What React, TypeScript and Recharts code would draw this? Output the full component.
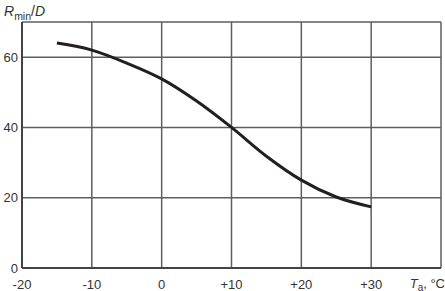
import { LineChart, Line, XAxis, YAxis, CartesianGrid } from "recharts";

const temps = [-15, -10, -5, 0, 5, 10, 15, 20, 25, 30];
const ratio = [64, 62, 58.3, 53.8, 47.5, 40, 31.8, 25, 20.2, 17.4];
const xTicks = [-20, -10, 0, 10, 20, 30, 40];
const yTicks = [0, 20, 40, 60, 70];

const data = temps.map((t, i) => ({ t, r: ratio[i] }));

const FONT = "Liberation Sans, Arial, sans-serif";
const TEXT = "#333";

function XTick({ x, y, payload }: any) {
  const v = payload.value as number;
  if (v === 40) {
    return (
      <text x={x + 4} y={y + 12} textAnchor="end" fontFamily={FONT} fontSize={13} fill={TEXT}>
        <tspan fontStyle="italic">T</tspan>
        <tspan fontSize={10} dy={2.5}>a</tspan>
        <tspan dy={-2.5}>, °C</tspan>
      </text>
    );
  }
  const label = v > 0 ? `+${v}` : `${v}`;
  return (
    <text x={x} y={y + 12.5} textAnchor="middle" fontFamily={FONT} fontSize={13} fill={TEXT}>
      {label}
    </text>
  );
}

function YTick({ x, y, payload }: any) {
  const v = payload.value as number;
  if (v === 70) return null;
  return (
    <text x={x} y={y + 4.5} textAnchor="end" fontFamily={FONT} fontSize={13} fill={TEXT}>
      {v}
    </text>
  );
}

export default function App() {
  return (
    <div style={{ position: "absolute", left: 0, top: 0, width: 445, height: 291, background: "#fff" }}>
      <LineChart width={445} height={291} data={data} margin={{ top: 22, right: 4, left: 0, bottom: 3 }}>
        <CartesianGrid stroke="#5e5e5e" strokeWidth={1.5} />
        <XAxis
          dataKey="t"
          type="number"
          domain={[-20, 40]}
          ticks={xTicks}
          tick={<XTick />}
          tickLine={false}
          height={20}
          axisLine={{ stroke: "#444", strokeWidth: 2 }}
          interval={0}
        />
        <YAxis
          type="number"
          domain={[0, 70]}
          ticks={yTicks}
          tick={<YTick />}
          tickLine={false}
          tickSize={2}
          tickMargin={2}
          width={22}
          axisLine={{ stroke: "#444", strokeWidth: 2 }}
          interval={0}
        />
        <Line
          type="monotone"
          dataKey="r"
          stroke="#231f20"
          strokeWidth={3}
          dot={false}
          isAnimationActive={false}
        />
        <text x={4} y={16} fontFamily={FONT} fontSize={14} fill={TEXT}>
          <tspan fontStyle="italic">R</tspan>
          <tspan fontSize={10.5} dy={4}>min</tspan>
          <tspan dy={-4}>/</tspan>
          <tspan fontStyle="italic">D</tspan>
        </text>
      </LineChart>
    </div>
  );
}
